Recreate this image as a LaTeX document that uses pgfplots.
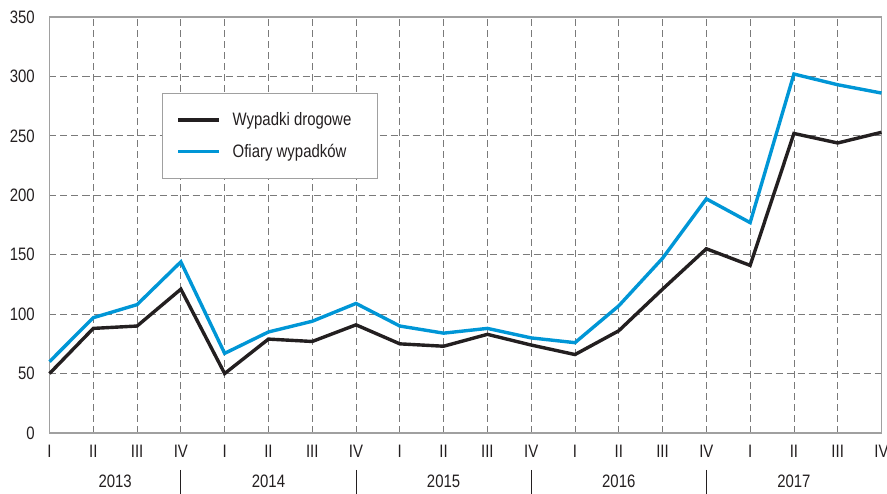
\documentclass[border=0pt]{standalone}
\usepackage{fontspec}
\setmainfont[FakeStretch=0.83]{Liberation Sans}
\usepackage{pgfplots}
\pgfplotsset{compat=1.18}
\definecolor{cblack}{HTML}{231F20}
\definecolor{cblue}{HTML}{0096D6}
\definecolor{cgrid}{HTML}{7A7A7A}
\definecolor{cframe}{HTML}{A0A0A0}
\newcommand{\lab}{\fontsize{18}{20}\selectfont}
\begin{document}
\begin{tikzpicture}
\useasboundingbox (-49.5pt,-61pt) rectangle (837.5pt,433pt);
\begin{axis}[
 scale only axis, width=832pt, height=416pt,
 xmin=0, xmax=19, ymin=0, ymax=350,
 xtick={0,...,19},
 xticklabels={I,II,III,IV,I,II,III,IV,I,II,III,IV,I,II,III,IV,I,II,III,IV},
 ytick={0,50,...,350},
 major tick length=0pt,
 grid=major,
 grid style={cgrid, dash pattern=on 7pt off 4pt, line width=0.8pt},
 axis line style={cframe, line width=1.2pt},
 tick label style={font=\lab, text=cblack},
 /pgf/number format/assume math mode=true,
 yticklabel style={inner sep=0pt, xshift=-14.5pt},
 xticklabel style={inner sep=0pt, yshift=-12pt},
 clip=false,
 legend style={at={(rel axis cs:0.135,0.8166)}, anchor=north west,
   draw=cframe, line width=1pt, fill=white, inner xsep=14pt, inner ysep=17pt,
   row sep=13pt, font=\lab, text=cblack, cells={anchor=west}},
 legend image code/.code={\draw[#1] (0pt,0pt) -- (41pt,0pt); \path (51pt,0pt);},
]
\addplot[cblack, line width=3.4pt] coordinates {
 (0,50) (1,88) (2,90) (3,121) (4,50) (5,79) (6,77) (7,91) (8,75) (9,73)
 (10,83) (11,74) (12,66) (13,86) (14,121) (15,155) (16,141) (17,252) (18,244) (19,253)};
\addlegendentry{Wypadki drogowe\hspace*{10pt}}
\addplot[cblue, line width=3.4pt] coordinates {
 (0,60) (1,97) (2,108) (3,144) (4,67) (5,85) (6,94) (7,109) (8,90) (9,84)
 (10,88) (11,80) (12,76) (13,107) (14,147) (15,197) (16,177) (17,302) (18,293) (19,286)};
\addlegendentry{Ofiary wypadków}
\draw[cblack, line width=0.8pt] ([yshift=-37pt]axis cs:3,0) -- ([yshift=-61pt]axis cs:3,0);
\draw[cblack, line width=0.8pt] ([yshift=-37pt]axis cs:7,0) -- ([yshift=-61pt]axis cs:7,0);
\draw[cblack, line width=0.8pt] ([yshift=-37pt]axis cs:11,0) -- ([yshift=-61pt]axis cs:11,0);
\draw[cblack, line width=0.8pt] ([yshift=-37pt]axis cs:15,0) -- ([yshift=-61pt]axis cs:15,0);
\node[font=\lab, text=cblack, anchor=base] at ([yshift=-55pt]axis cs:1.5,0) {2013};
\node[font=\lab, text=cblack, anchor=base] at ([yshift=-55pt]axis cs:5,0) {2014};
\node[font=\lab, text=cblack, anchor=base] at ([yshift=-55pt]axis cs:9,0) {2015};
\node[font=\lab, text=cblack, anchor=base] at ([yshift=-55pt]axis cs:13,0) {2016};
\node[font=\lab, text=cblack, anchor=base] at ([yshift=-55pt]axis cs:17,0) {2017};
\end{axis}
\end{tikzpicture}
\end{document}
